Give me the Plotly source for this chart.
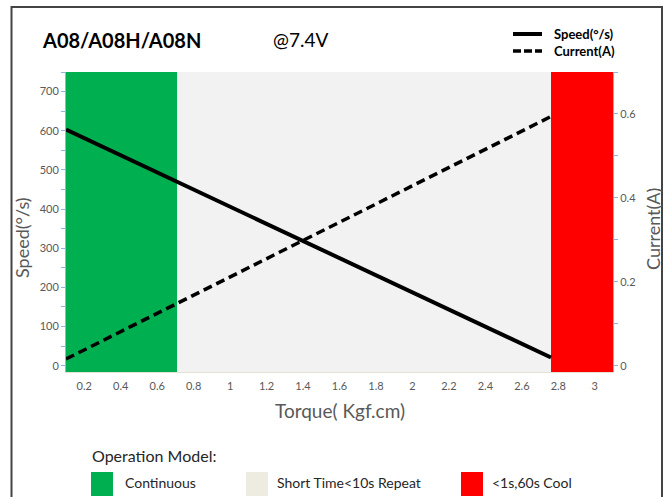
import plotly.graph_objects as go

# ---- data ----
torque = [0.1, 2.76]
speed = [603, 21]
current = [0.016, 0.594]

zone_names = ["Continuous", "Short Time<10s Repeat", "<1s,60s Cool"]
zone_start = [0.1, 0.71, 2.76]
zone_end = [0.71, 2.76, 3.1]
zone_colors = ["#00B050", "#F2F2F2", "#FF0000"]
legend_colors = ["#00B050", "#EEECE1", "#FF0000"]

title_text = "A08/A08H/A08N"
voltage_text = "@7.4V"

W, H = 664, 497
L, R, T, B = 66, 51, 72, 125
PW, PH = W - L - R, H - T - B


def px(x):
    return (x - L) / PW


def py(y):
    return (H - B - y) / PH


FONT = "Lato, Open Sans, sans-serif"
GRAY = "#595959"
AXBLUE = "#8EB4E3"

fig = go.Figure()

fig.add_trace(go.Scatter(x=torque, y=speed, mode="lines", name="Speed(°/s)",
                         line=dict(color="black", width=4), showlegend=False))
fig.add_trace(go.Scatter(x=torque, y=current, mode="lines", name="Current(A)", yaxis="y2",
                         line=dict(color="black", width=3.5, dash="9px,5px"), showlegend=False))

shapes = []
for s, e, c in zip(zone_start, zone_end, zone_colors):
    shapes.append(dict(type="rect", xref="x", yref="paper", x0=s, x1=e, y0=0, y1=1,
                       fillcolor=c, line=dict(width=0), layer="below"))

# outer frame
shapes.append(dict(type="rect", xref="paper", yref="paper", x0=px(11.5), x1=px(662),
                   y0=py(520), y1=py(7), line=dict(color="#444444", width=2),
                   fillcolor="rgba(0,0,0,0)"))

# top-right legend line samples
shapes.append(dict(type="line", xref="paper", yref="paper", x0=px(513), x1=px(542),
                   y0=py(34), y1=py(34), line=dict(color="black", width=4)))
shapes.append(dict(type="line", xref="paper", yref="paper", x0=px(513), x1=px(542),
                   y0=py(51), y1=py(51), line=dict(color="black", width=3.5, dash="8px,3px")))

annotations = [
    dict(text="<b>" + title_text + "</b>", x=px(40), y=py(40), xanchor="left", yanchor="middle",
         font=dict(size=20, color="black", family=FONT)),
    dict(text=voltage_text, x=px(271), y=py(40), xanchor="left", yanchor="middle",
         font=dict(size=19, color="black", family=FONT)),
    dict(text="<b>Speed(°/s)</b>", x=px(552), y=py(34), xanchor="left", yanchor="middle",
         font=dict(size=13, color="black", family=FONT)),
    dict(text="<b>Current(A)</b>", x=px(552), y=py(51), xanchor="left", yanchor="middle",
         font=dict(size=13, color="black", family=FONT)),
    dict(text="Speed(°/s)", x=px(22), y=py(238), xanchor="center", yanchor="middle", textangle=-90,
         font=dict(size=18, color=GRAY, family=FONT)),
    dict(text="Current(A)", x=px(653), y=py(229), xanchor="center", yanchor="middle", textangle=-90,
         font=dict(size=18, color=GRAY, family=FONT)),
    dict(text="Torque( Kgf.cm)", x=px(340), y=py(411), xanchor="center", yanchor="middle",
         font=dict(size=19, color=GRAY, family=FONT)),
    dict(text="Operation Model:", x=px(90), y=py(455), xanchor="left", yanchor="middle",
         font=dict(size=16, color="#262626", family=FONT)),
]

sq_x = [91, 246, 461]
txt_x = [123, 275, 490]
for name, col, sx, tx in zip(zone_names, legend_colors, sq_x, txt_x):
    shapes.append(dict(type="rect", xref="paper", yref="paper", x0=px(sx), x1=px(sx + 22),
                       y0=py(496), y1=py(472), fillcolor=col, line=dict(width=0)))
    annotations.append(dict(text=name, x=px(tx), y=py(482), xanchor="left", yanchor="middle",
                            font=dict(size=14, color="#262626", family=FONT)))

for a in annotations:
    a.update(xref="paper", yref="paper", showarrow=False)

fig.update_layout(
    width=W, height=H,
    margin=dict(l=L, r=R, t=T, b=B),
    paper_bgcolor="white", plot_bgcolor="white",
    font=dict(family=FONT, color=GRAY, size=11),
    showlegend=False,
    shapes=shapes, annotations=annotations,
    xaxis=dict(range=[0.1, 3.1], tick0=0, dtick=0.2, showgrid=False, zeroline=False,
               showline=True, linecolor="#E6E2D3", linewidth=1, ticks="",
               tickfont=dict(size=11, color=GRAY), ticklabelstandoff=4),
    yaxis=dict(range=[-16, 750], tick0=0, dtick=100, showgrid=False, zeroline=False,
               showline=True, linecolor=AXBLUE, linewidth=1, ticks="outside", ticklen=4,
               tickcolor=AXBLUE, tickfont=dict(size=11, color=GRAY),
               minor=dict(ticks="outside", ticklen=4, dtick=50, tick0=0, tickcolor=AXBLUE)),
    yaxis2=dict(range=[-0.015, 0.7], tick0=0, dtick=0.2, overlaying="y", side="right",
                showgrid=False, zeroline=False, showline=True, linecolor=AXBLUE, linewidth=1,
                ticks="outside", ticklen=4, tickcolor=AXBLUE, tickfont=dict(size=11, color=GRAY),
                minor=dict(ticks="outside", ticklen=4, dtick=0.1, tick0=0, tickcolor=AXBLUE)),
)

fig.write_html("out.html", config={"displayModeBar": False},
               post_script="document.body.style.margin='0';document.body.style.padding='0';"
                           "document.body.style.overflow='hidden';")
